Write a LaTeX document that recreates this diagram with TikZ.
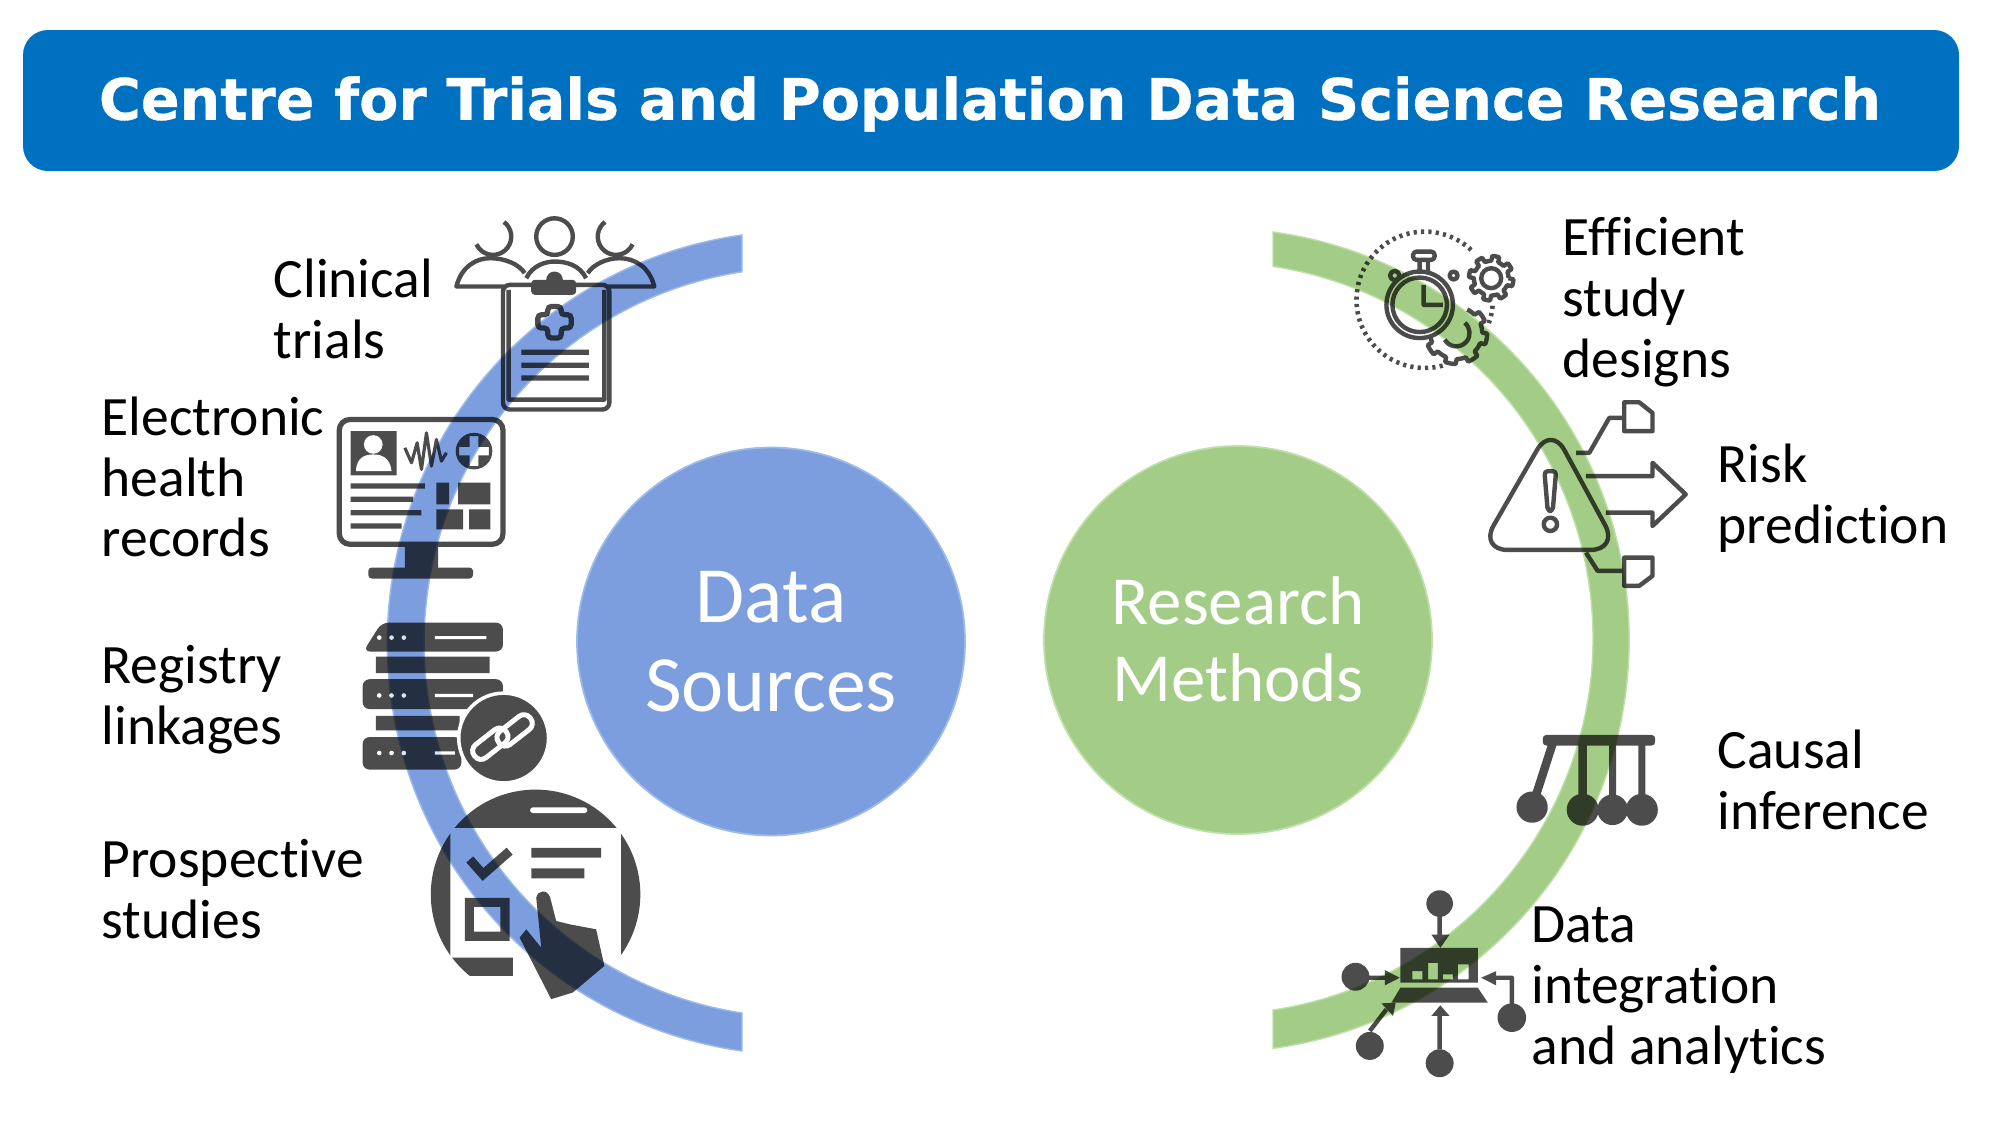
\documentclass[tikz,border=0pt]{standalone}
\usepackage{fontspec}
\setmainfont{Carlito}[Ligatures=CommonOff]
\newfontfamily\bannerfont{DejaVu Sans}[BoldFeatures={FakeBold=0.6}]
\usepackage{xcolor}
\usepackage{tikz}
\usetikzlibrary{calc}
\definecolor{bannerblue}{HTML}{0070C0}
\definecolor{sourceblue}{HTML}{7C9EDF}
\definecolor{sourceedge}{HTML}{9DBBEA}
\definecolor{methodgreen}{HTML}{A3CC86}
\definecolor{methodedge}{HTML}{BFDFA8}
\tikzset{
  label/.style={anchor=west, align=left, inner sep=0pt, font=\fontsize{15.8}{17.3}\selectfont},
  hub/.style={circle, inner sep=0pt, minimum size=3.88cm, align=center, text=white, line width=0.5pt},
  icon/.style={x=0.00333cm, y=-0.00333cm, transparency group, opacity=0.7},
  iconline/.style={draw=black, line width=1.25pt, line join=round},
  iconthick/.style={draw=black, line width=1.8pt},
  iconwhite/.style={draw=white, line width=1pt}
}
\newcommand{\gearicon}[5]{\draw[iconline, shift={(#1,#2)}] plot[domain=#4:#5, samples=121] (\x:{#3+15*(sin(8*\x)>0)});}
\begin{document}
\begin{tikzpicture}[y=-1cm]
\useasboundingbox (0,0) rectangle (20.12,11.31);

%%% banner
\node (banner) [fill=bannerblue, rounded corners=0.25cm, minimum width=19.36cm, minimum height=1.41cm, inner sep=0pt] at (9.91,1.005) {};
\node (title) [inner sep=0pt, text=white, font=\bannerfont\bfseries\fontsize{16.25}{20}\selectfont] at (9.90,1.04) {Centre for Trials and Population Data Science Research};

%%% arcs
\draw[fill=sourceblue, draw=sourceedge, line width=0.4pt] (7.42,2.35) arc[start angle=262,end angle=98,radius=4.12] -- (7.42,10.13) arc[start angle=98.76,end angle=261.24,radius=3.75] -- cycle;
\draw[fill=methodgreen, draw=methodedge, line width=0.4pt] (12.73,2.32) arc[start angle=-82.2,end angle=82.2,radius=4.12] -- (12.73,10.10) arc[start angle=81.43,end angle=-81.43,radius=3.76] -- cycle;

%%% hubs
\node (sources) [hub, fill=sourceblue, draw=sourceedge, font=\fontsize{22.7}{25.5}\selectfont] at (7.71,6.415) {Data\\Sources};
\node (methods) [hub, fill=methodgreen, draw=methodedge, font=\fontsize{19.6}{21.9}\selectfont] at (12.38,6.40) {\raisebox{0.8pt}{Research}\\\raisebox{0.8pt}{Methods}};

%%% labels
\node (clinical) [label] at (2.73,3.09) {Clinical\\trials};
\node (electronic) [label] at (1.01,4.77) {Electronic\\health\\records};
\node (registry) [label] at (1.01,7.00) {Registry\\linkages};
\node (prospective) [label] at (1.01,8.89) {Prospective\\studies};
\node (efficient) [label] at (15.62,3.02) {Efficient\\study\\designs};
\node (risk) [label] at (17.17,4.98) {Risk\\prediction};
\node (causal) [label] at (17.17,7.80) {Causal\\inference};
\node (integration) [label] at (15.31,9.90) {Data\\integration\\and analytics};

%%% icons

% clinical trials
\begin{scope}[shift={(3.3,2)}, icon]
\draw[iconline] (675,110) circle[radius=55];
\draw[iconline] (490,110) ++(-53:55) arc[start angle=-53,end angle=155,radius=55];
\draw[iconline] (860,110) ++(233:55) arc[start angle=233,end angle=25,radius=55];
\draw[iconline] (525,260) -- (380,260) .. controls (395,200) and (440,175) .. (480,175) .. controls (530,175) and (570,195) .. (585,220);
\draw[iconline] (830,260) -- (975,260) .. controls (960,200) and (915,175) .. (870,175) .. controls (830,175) and (790,195) .. (775,220);
\draw[iconline] (590,235) .. controls (610,195) and (650,185) .. (675,185) .. controls (710,185) and (750,195) .. (770,235);
\draw[iconline, rounded corners=2pt] (520,255) -- (520,630) -- (840,630) -- (840,255) -- cycle;
\draw[iconline] (537,270) -- (537,600) -- (825,600) -- (825,270);
\fill[rounded corners=1pt] (605,240) rectangle (740,285);
\fill (650,240) arc[start angle=180,end angle=360,radius=25];
\draw[iconthick, line width=1.5pt, rounded corners=1pt] (655,320) -- (695,320) -- (695,345) -- (725,345) -- (725,385) -- (695,385) -- (695,415) -- (655,415) -- (655,385) -- (625,385) -- (625,345) -- (655,345) -- cycle;
\foreach \ly in {458,497,535}
  \draw[iconthick, line width=1.5pt] (575,\ly) -- (778,\ly);
\end{scope}

% electronic health records
\begin{scope}[shift={(3.3,2)}, icon]
\draw[iconthick, line width=1.5pt, rounded corners=3pt] (28,660) rectangle (520,1035);
\fill (225,1035) rectangle (325,1110);
\fill[rounded corners=1pt] (115,1105) rectangle (430,1138);
\fill (62,695) rectangle (200,828);
\fill[white] (130,735) circle[radius=28];
\fill[white] (78,815) .. controls (80,770) and (110,765) .. (130,765) .. controls (150,765) and (180,770) .. (185,815) -- cycle;
\draw[iconline, line width=0.9pt] (225,745) -- (245,790) -- (262,730) -- (275,810) -- (290,700) -- (305,800) -- (320,720) -- (335,785) -- (350,760);
\fill[even odd rule] (433,755) circle[radius=55] (420,710) -- (446,710) -- (446,742) -- (478,742) -- (478,768) -- (446,768) -- (446,800) -- (420,800) -- (420,768) -- (388,768) -- (388,742) -- (420,742) -- cycle;
\draw[iconthick, line width=1.5pt] (62,860) -- (285,860);
\draw[iconthick, line width=1.5pt] (62,900) -- (250,900);
\draw[iconthick, line width=1.5pt] (62,940) -- (275,940);
\draw[iconthick, line width=1.5pt] (62,980) -- (215,980);
\fill (320,850) rectangle (358,915);
\fill (385,850) rectangle (482,915);
\fill (320,930) rectangle (400,990);
\fill (418,930) rectangle (482,990);
\end{scope}

% registry linkages
\begin{scope}[shift={(3.4,6)}, icon]
\fill[rounded corners=2pt] (70,155) -- (125,68) -- (490,68) -- (490,155) -- cycle;
\fill (108,170) rectangle (450,220);
\fill[rounded corners=2pt] (68,238) rectangle (490,328);
\fill (108,348) rectangle (360,392);
\fill[rounded corners=2pt] (68,412) -- (68,510) -- (365,510) -- (365,412) -- cycle;
\foreach \ry/\rx in {113/440,287/400,460/345}{
  \foreach \dx in {118,155,192}
    \fill[white] (\dx,\ry) circle[radius=7];
  \draw[iconwhite, line width=0.9pt] (285,\ry) -- (\rx,\ry);
}
\draw[draw=white, fill=black, line width=1pt] (492,415) circle[radius=135];
\draw[iconwhite, line width=1.4pt, rounded corners=2.2pt, rotate around={38:(452,432)}] (392,407) rectangle (512,457);
\draw[iconwhite, line width=1.4pt, rounded corners=2.2pt, rotate around={38:(525,392)}] (465,367) rectangle (585,417);
\end{scope}

% prospective studies
\begin{scope}[shift={(3.4,6)}, icon]
\begin{scope}
\clip (588,885) circle[radius=315];
\fill (200,500) rectangle (1000,685);
\fill (200,685) rectangle (332,1200);
\fill (845,685) rectangle (1000,1080);
\fill (200,1075) rectangle (520,1130);
\end{scope}
\draw[iconwhite, line width=1.6pt, line cap=round] (580,632) -- (735,632);
\draw[iconthick, line width=2.6pt] (390,780) -- (430,825) -- (510,755);
\draw[iconthick, line width=2.8pt] (575,760) -- (785,760);
\draw[iconthick, line width=2.8pt] (575,822) -- (735,822);
\draw[iconthick, line width=2.6pt] (389,909) rectangle (496,1011);
\fill (590,895) .. controls (595,870) and (625,870) .. (632,895) -- (650,965) -- (690,975) -- (770,990) -- (795,1100) -- (700,1180) -- (635,1200) -- (540,1015) -- (560,990) -- (605,1045) -- cycle;
\end{scope}

% efficient study designs
\begin{scope}[shift={(12.7,2.1)}, icon]
\draw[iconthick, dash pattern=on 0.9pt off 1.2pt, line width=1.3pt] (465,270) ++(-47:205) arc[start angle=-47,end angle=-288,radius=205];
\draw[iconthick, dash pattern=on 0.9pt off 1.2pt, line width=1.3pt] (465,270) ++(5:205) arc[start angle=5,end angle=20,radius=205];
\draw[iconline] (450,285) circle[radius=100];
\draw[iconline] (450,285) circle[radius=82];
\draw[iconline] (462,225) -- (462,285) -- (520,285);
\draw[iconline, rounded corners=1pt] (430,125) rectangle (495,150);
\draw[iconline] (450,150) -- (450,185) (475,150) -- (475,185);
\draw[iconline] (375,197) circle[radius=14];
\draw[iconline] (552,197) circle[radius=12];
\gearicon{665}{205}{52}{0}{360}
\draw[iconline] (665,205) circle[radius=30];
\gearicon{560}{370}{78}{-65}{175}
\draw[iconline] (560,370) ++(-50:40) arc[start angle=-50,end angle=150,radius=40];
\end{scope}

% risk prediction
\begin{scope}[shift={(12.7,2.1)}, icon]
\draw[iconline, rounded corners=8pt] (845,648) -- (630,1022) -- (1048,1022) -- cycle;
\draw[iconline, rounded corners=1pt] (825,785) -- (860,785) -- (850,905) -- (835,905) -- cycle;
\draw[iconline] (843,945) circle[radius=20];
\draw[iconline] (950,800) -- (1150,800) -- (1150,760) -- (1250,855) -- (1150,950) -- (1150,910) -- (1010,910);
\draw[iconline] (920,730) -- (960,730) -- (1020,625) -- (1065,625);
\draw[iconline] (1065,578) -- (1110,578) -- (1150,610) -- (1150,665) -- (1065,665) -- cycle;
\draw[iconline] (950,1030) -- (985,1085) -- (1065,1085);
\draw[iconline] (1065,1045) -- (1150,1045) -- (1150,1100) -- (1110,1130) -- (1065,1130) -- cycle;
\end{scope}

% causal inference
\begin{scope}[shift={(12.7,7)}, icon]
\fill[rounded corners=1pt] (820,105) rectangle (1158,137);
\draw[iconthick, line width=2.4pt] (850,130) -- (800,285);
\draw[iconthick, line width=2.4pt] (940,130) -- (940,290);
\draw[iconthick, line width=2pt] (1030,130) -- (1030,290);
\draw[iconthick, line width=2pt] (1118,130) -- (1118,290);
\fill (788,322) circle[radius=47];
\fill (940,330) circle[radius=48];
\fill (1030,330) circle[radius=46];
\fill (1118,330) circle[radius=48];
\end{scope}

% data integration and analytics
\begin{scope}[shift={(12.7,7)}, icon]
\fill[even odd rule] (392,745) rectangle (625,850) (428,815) rectangle (458,840) (475,790) rectangle (505,840) (520,825) rectangle (550,840) (565,795) rectangle (597,840);
\fill (392,865) -- (625,865) -- (655,910) -- (365,910) -- cycle;
\fill (510,612) circle[radius=40];
\draw[iconline] (510,650) -- (510,710);
\fill (485,705) -- (540,705) -- (512,745) -- cycle;
\fill (257,832) circle[radius=42];
\draw[iconline] (295,835) -- (350,835);
\fill (345,812) -- (390,835) -- (345,858) -- cycle;
\fill (727,955) circle[radius=43];
\draw[iconline] (727,915) -- (727,835) -- (680,835);
\fill (680,815) -- (635,835) -- (680,858) -- cycle;
\fill (300,1040) circle[radius=42];
\draw[iconline] (300,995) -- (350,930);
\fill (335,912) -- (378,910) -- (370,950) -- cycle;
\fill (510,1092) circle[radius=42];
\draw[iconline] (510,1050) -- (510,950);
\fill (485,950) -- (540,950) -- (512,918) -- cycle;
\end{scope}
\end{tikzpicture}
\end{document}
